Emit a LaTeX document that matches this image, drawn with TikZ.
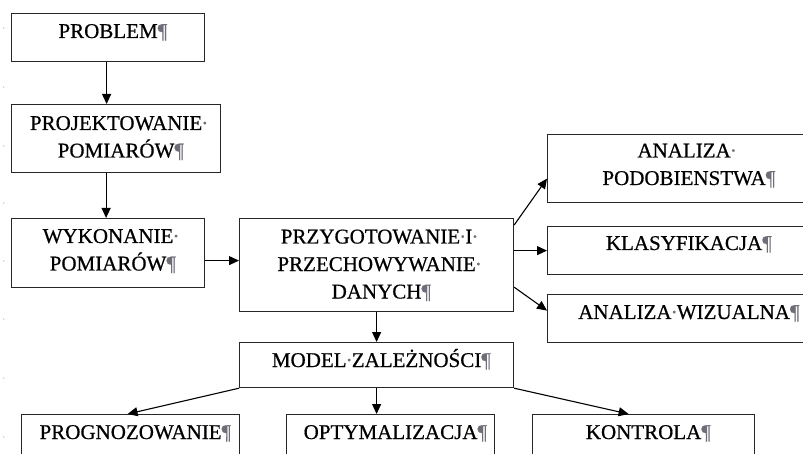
\documentclass[tikz,border=0pt]{standalone}
\usepackage{fontspec}
\setmainfont[FakeBold=0.6]{Liberation Serif}
\usetikzlibrary{arrows.meta,calc}
\definecolor{markgray}{RGB}{110,110,120}
\definecolor{rulerdot}{RGB}{170,210,235}
\newcommand\pil{\rlap{\textcolor{markgray}{¶}}}
\newcommand\msp{\makebox[0.25em]{\textcolor{markgray}{·}}}
\newcommand\tsp{\rlap{\makebox[0.25em]{\textcolor{markgray}{·}}}}
\begin{document}
\begin{tikzpicture}[x=1pt,y=1pt,
  box/.style={draw=black!85, line width=1.2pt, rectangle, inner sep=0pt, anchor=north west},
  txt/.style={font=\fontsize{21}{27.5}\selectfont, align=center, inner sep=0pt, anchor=base, text=black},
  arr/.style={-{Triangle[length=10pt,width=9pt]}, line width=1.1pt, black},
  rdot/.style={fill=rulerdot, draw=none, circle, inner sep=0pt, minimum size=1.6pt}]
\useasboundingbox (0,0) rectangle (803,-454);
\clip (0,0) rectangle (803,-454);
\fill[white] (0,0) rectangle (803,-454);
% ruler dots
\foreach \yy [count=\i] in {28,87,146,203,261,319,378,437}
  \node[rdot] (rd\i) at (3.7,-\yy) {};
% boxes
\node[box, minimum width=193pt, minimum height=48pt] (problem) at (11,-13) {};
\node[box, minimum width=209pt, minimum height=68pt] (projekt) at (11,-104) {};
\node[box, minimum width=193pt, minimum height=69pt] (wykon) at (11,-218) {};
\node[box, minimum width=274pt, minimum height=93pt] (przyg) at (239,-218) {};
\node[box, minimum width=274pt, minimum height=45pt] (model) at (239,-342) {};
\node[box, minimum width=218pt, minimum height=70pt] (progn) at (21,-414) {};
\node[box, minimum width=208pt, minimum height=70pt] (optym) at (286,-414) {};
\node[box, minimum width=222pt, minimum height=70pt] (kontr) at (532,-414) {};
\node[box, minimum width=273pt, minimum height=68pt] (analiza) at (547,-134) {};
\node[box, minimum width=273pt, minimum height=48pt] (klasyf) at (547,-226) {};
\node[box, minimum width=273pt, minimum height=48pt] (wizual) at (547,-294) {};
% texts (base anchor = baseline of the last line)
\node[txt] (tproblem) at (problem.north |- 0,-38) {PROBLEM\pil};
\node[txt] (tprojekt) at (projekt.north |- 0,-157.5) {PROJEKTOWANIE\tsp\\POMIARÓW\pil};
\node[txt] (twykon) at (wykon.north |- 0,-270.5) {WYKONANIE\tsp\\POMIARÓW\pil};
\node[txt] (tprzyg) at (przyg.north |- 0,-298.5) {PRZYGOTOWANIE\msp I\tsp\\PRZECHOWYWANIE\tsp\\DANYCH\pil};
\node[txt] (tmodel) at (model.north |- 0,-367) {MODEL\msp ZALEŻNOŚCI\pil};
\node[txt] (tprogn) at (progn.north |- 0,-439) {PROGNOZOWANIE\pil};
\node[txt] (toptym) at (optym.north |- 0,-439) {OPTYMALIZACJA\pil};
\node[txt] (tkontr) at (kontr.north |- 0,-439) {KONTROLA\pil};
\node[txt] (tanaliza) at (analiza.north |- 0,-185) {ANALIZA\tsp\\PODOBIENSTWA\pil};
\node[txt] (tklasyf) at (klasyf.north |- 0,-250) {KLASYFIKACJA\pil};
\node[txt] (twizual) at (wizual.north |- 0,-319) {ANALIZA\msp WIZUALNA\pil};
% connectors
\draw[arr] ([xshift=-1.5pt]problem.south) -- ([xshift=-1.5pt]problem.south |- projekt.north);
\draw[arr] ([xshift=-2pt]wykon.north |- projekt.south) -- ([xshift=-2pt]wykon.north);
\draw[arr] ([yshift=-7.5pt]wykon.east) -- ([yshift=-7.5pt]wykon.east -| przyg.west);
\draw[arr] (przyg.south) -- (model.north);
\draw[arr] (model.south west) -- ([xshift=-3pt]progn.north);
\draw[arr] (model.south) -- (model.south |- optym.north);
\draw[arr] (model.south east) -- ([xshift=-15pt]kontr.north);
\draw[arr] ([yshift=-7pt]przyg.north east) -- ([yshift=-10pt]analiza.west);
\draw[arr] (przyg.east |- klasyf.west) -- (klasyf.west);
\draw[arr] ([yshift=25pt]przyg.south east) -- ([yshift=8pt]wizual.west);
\end{tikzpicture}
\end{document}
